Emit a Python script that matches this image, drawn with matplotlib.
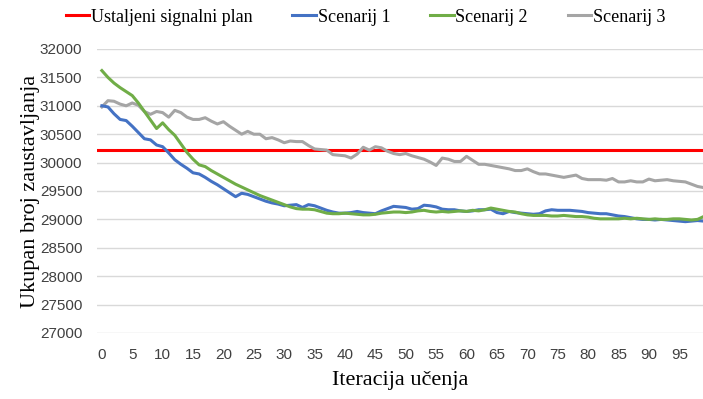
import numpy as np
import matplotlib
matplotlib.use("Agg")
import matplotlib.pyplot as plt

# iteracije ucenja 0..99
iteracije = np.arange(100)

# ustaljeni (fiksni) signalni plan
ustaljeni = 30230

scenarij_1 = [31000, 30980, 30860, 30760, 30740, 30640, 30530, 30420, 30400, 30310,
              30280, 30170, 30050, 29970, 29900, 29820, 29800, 29740, 29670, 29610,
              29540, 29470, 29400, 29460, 29440, 29400, 29360, 29320, 29290, 29270,
              29240, 29250, 29260, 29210, 29260, 29240, 29200, 29160, 29130, 29110,
              29110, 29120, 29140, 29120, 29110, 29100, 29150, 29190, 29230, 29220,
              29210, 29180, 29190, 29250, 29240, 29220, 29180, 29170, 29170, 29150,
              29140, 29150, 29170, 29170, 29180, 29120, 29100, 29140, 29120, 29110,
              29100, 29090, 29100, 29150, 29170, 29160, 29160, 29160, 29150, 29140,
              29120, 29110, 29100, 29100, 29080, 29060, 29050, 29030, 29010, 29000,
              29000, 28990, 29000, 28990, 28980, 28970, 28960, 28970, 28980, 28970]

scenarij_2 = [31620, 31500, 31400, 31320, 31250, 31180, 31050, 30900, 30750, 30600,
              30700, 30580, 30480, 30330, 30180, 30060, 29960, 29930, 29860, 29800,
              29740, 29680, 29620, 29570, 29520, 29470, 29420, 29380, 29340, 29300,
              29260, 29220, 29190, 29180, 29180, 29170, 29140, 29110, 29100, 29100,
              29110, 29100, 29090, 29080, 29080, 29090, 29110, 29120, 29130, 29130,
              29120, 29130, 29150, 29160, 29140, 29130, 29140, 29130, 29140, 29150,
              29140, 29160, 29150, 29170, 29200, 29180, 29160, 29140, 29130, 29100,
              29080, 29070, 29070, 29070, 29060, 29060, 29070, 29060, 29050, 29050,
              29040, 29020, 29010, 29010, 29010, 29010, 29020, 29010, 29020, 29010,
              29000, 29010, 29000, 29000, 29010, 29010, 29000, 28990, 29000, 29050]

scenarij_3 = [30980, 31090, 31080, 31030, 31000, 31050, 31010, 30900, 30850, 30900,
              30880, 30800, 30920, 30880, 30800, 30760, 30760, 30790, 30730, 30680,
              30720, 30640, 30570, 30500, 30550, 30500, 30500, 30420, 30440, 30400,
              30350, 30380, 30370, 30370, 30300, 30240, 30230, 30220, 30140, 30130,
              30120, 30080, 30150, 30270, 30220, 30280, 30260, 30200, 30160, 30140,
              30160, 30120, 30090, 30060, 30010, 29950, 30080, 30060, 30020, 30020,
              30110, 30040, 29970, 29970, 29950, 29930, 29910, 29890, 29860, 29860,
              29890, 29840, 29800, 29800, 29780, 29760, 29740, 29760, 29780, 29720,
              29700, 29700, 29700, 29690, 29720, 29660, 29660, 29680, 29660, 29660,
              29710, 29680, 29690, 29700, 29680, 29670, 29660, 29620, 29580, 29560]

serif = ["Liberation Serif", "DejaVu Serif"]
tick_font = ["Liberation Sans", "DejaVu Sans"]

fig = plt.figure(figsize=(7.03, 3.99), dpi=100)
ax = fig.add_axes([97 / 703, 1 - 333 / 399, 1 - 97 / 703, (333 - 49) / 399])

ax.axhline(ustaljeni, color="#FF0000", lw=2.2, label="Ustaljeni signalni plan", zorder=3)
ax.plot(iteracije, scenarij_1, color="#4472C4", lw=2.2, label="Scenarij 1", zorder=4)
ax.plot(iteracije, scenarij_2, color="#70AD47", lw=2.2, label="Scenarij 2", zorder=4)
ax.plot(iteracije, scenarij_3, color="#A5A5A5", lw=2.2, label="Scenarij 3", zorder=3)

ax.set_ylim(27000, 32000)
ax.set_xlim(-0.8, 98.9)
ax.set_yticks(np.arange(27000, 32001, 500))
ax.set_xticks(np.arange(0, 100, 5))
ax.grid(axis="y", color="#D9D9D9", lw=1)
ax.set_axisbelow(True)
for s in ax.spines.values():
    s.set_visible(False)
ax.tick_params(axis="y", length=0, pad=10.5)
ax.tick_params(axis="x", length=0, pad=11)
for lbl in ax.get_xticklabels() + ax.get_yticklabels():
    lbl.set_fontfamily(tick_font)
    lbl.set_fontsize(11)
    lbl.set_color("#404040")

ax.set_xlabel("Iteracija učenja", fontfamily=serif, fontsize=16, labelpad=6)
ax.set_ylabel("Ukupan broj zaustavljanja", fontfamily=serif, fontsize=16, labelpad=0)

fig.legend(loc="center", bbox_to_anchor=(0.52, 1 - 17 / 399), ncol=4, frameon=False,
           prop={"family": serif, "size": 13}, handlelength=1.3, handletextpad=0.1,
           columnspacing=2.2)

fig.savefig("out.png", dpi=100)
